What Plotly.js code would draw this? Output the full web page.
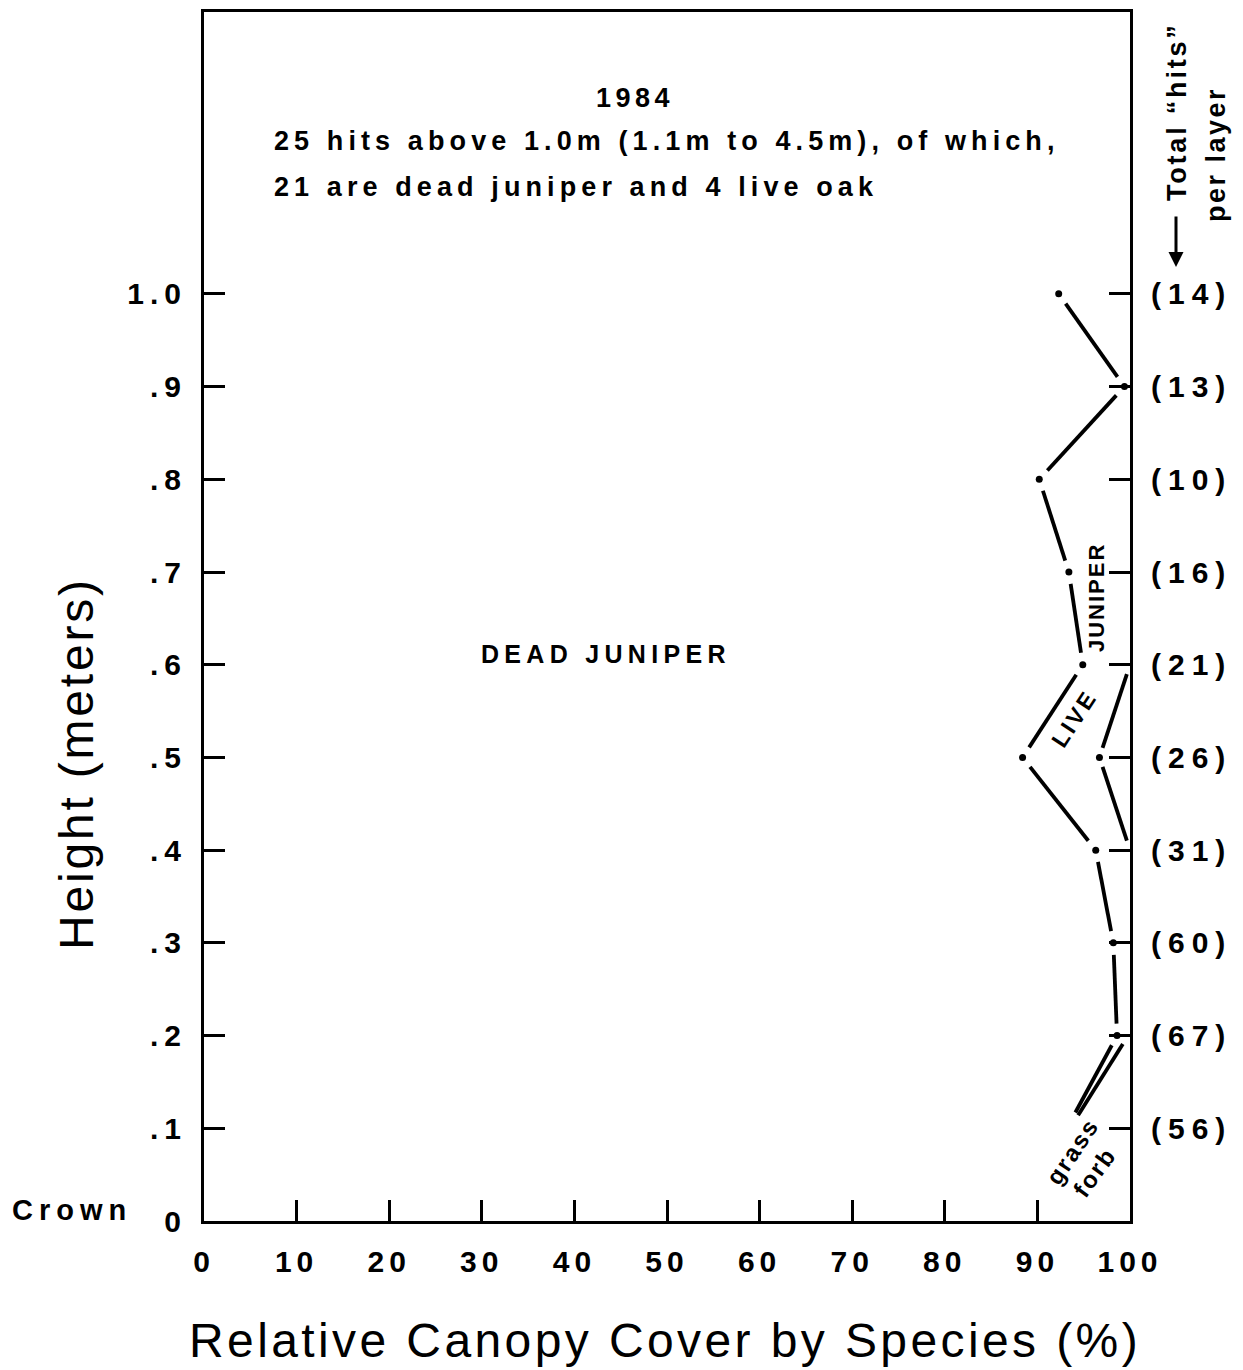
<!DOCTYPE html>
<html>
<head>
<meta charset="utf-8">
<script src="https://cdn.plot.ly/plotly-3.0.1.min.js"></script>
<style>
  body { margin: 0; background: #fff; }
  .xtick text { letter-spacing: 5px; }
  .ytick text { letter-spacing: 6px; }
  .y2tick text { letter-spacing: 7px; }
</style>
</head>
<body>
<div id="chart" style="width:1243px;height:1370px;"></div>
<script>
// ---- data ----
const xTicks = [0, 10, 20, 30, 40, 50, 60, 70, 80, 90, 100];
const layerHeights = [0, 0.1, 0.2, 0.3, 0.4, 0.5, 0.6, 0.7, 0.8, 0.9, 1.0];
const layerLabels = ["0", ".1", ".2", ".3", ".4", ".5", ".6", ".7", ".8", ".9", "1.0"];
const hitHeights = [0.1, 0.2, 0.3, 0.4, 0.5, 0.6, 0.7, 0.8, 0.9, 1.0];
const hitsPerLayer = [56, 67, 60, 31, 26, 21, 16, 10, 13, 14];

// boundary between dead juniper and live juniper (cumulative %)
const deadHeights = [1.0, 0.9, 0.8, 0.7, 0.6, 0.5, 0.4, 0.3, 0.2];
const deadEdge    = [92.3, 99.4, 90.2, 93.4, 94.9, 88.4, 96.3, 98.2, 98.6];
// boundary between live juniper and live oak
const liveHeights = [0.6, 0.5, 0.4];
const liveEdge    = [100, 96.7, 100];
// grass and forb boundaries
const grassHeights = [0.2, 0.117];
const grassEdge    = [98.6, 94.1];
const forbHeights  = [0.2, 0.114];
const forbEdge     = [99.8, 94.4];

// ---- layout geometry ----
const W = 1243, H = 1370;
const M = {l: 204, r: 113, t: 12, b: 149};
const PW = W - M.l - M.r, PH = H - M.t - M.b;
const XR = [0, 100], YR = [0, 1.304];
const sx = PW / (XR[1] - XR[0]), sy = PH / (YR[1] - YR[0]);
const px = p => (p - M.l) / PW;           // pixel -> paper x
const py = p => (H - M.b - p) / PH;       // pixel -> paper y

// dash-with-gaps: each segment is shortened near its vertices
function gapped(xs, ys, gap, gapFirst = true, gapLast = true) {
  const ox = [], oy = [];
  for (let i = 0; i < xs.length - 1; i++) {
    const dxp = (xs[i + 1] - xs[i]) * sx, dyp = (ys[i + 1] - ys[i]) * sy;
    const len = Math.hypot(dxp, dyp);
    const g0 = (i === 0 && !gapFirst) ? 0 : gap / len;
    const g1 = (i === xs.length - 2 && !gapLast) ? 0 : gap / len;
    ox.push(xs[i] + (xs[i + 1] - xs[i]) * g0, xs[i + 1] - (xs[i + 1] - xs[i]) * g1, null);
    oy.push(ys[i] + (ys[i + 1] - ys[i]) * g0, ys[i + 1] - (ys[i + 1] - ys[i]) * g1, null);
  }
  return {x: ox, y: oy};
}

const lineStyle = {color: '#000', width: 3.8};
const d1 = gapped(deadEdge, deadHeights, 12);
const d2 = gapped(liveEdge, liveHeights, 10);
const d3 = gapped(grassEdge, grassHeights, 11, true, false);
const d4 = gapped(forbEdge, forbHeights, 10, true, false);

const traces = [
  {x: d1.x, y: d1.y, mode: 'lines', line: lineStyle, hoverinfo: 'skip', showlegend: false},
  {x: d2.x, y: d2.y, mode: 'lines', line: lineStyle, hoverinfo: 'skip', showlegend: false},
  {x: d3.x, y: d3.y, mode: 'lines', line: lineStyle, hoverinfo: 'skip', showlegend: false},
  {x: d4.x, y: d4.y, mode: 'lines', line: lineStyle, hoverinfo: 'skip', showlegend: false},
  {x: deadEdge.concat([liveEdge[1]]), y: deadHeights.concat([liveHeights[1]]), mode: 'markers',
   marker: {color: '#000', size: 7}, hoverinfo: 'skip', showlegend: false},
  // invisible trace to activate right axis
  {x: [null], y: [null], yaxis: 'y2', mode: 'markers', showlegend: false, hoverinfo: 'skip'}
];

const FAM = 'Liberation Sans, Arial, sans-serif';
const tickFont = {family: FAM, size: 30, color: '#000', weight: 'bold'};
const bold = (s) => ({family: FAM, size: s, color: '#000', weight: 'bold'});
const reg = (s) => ({family: FAM, size: s, color: '#000'});
const sp = (t, ls) => '<span style="letter-spacing:' + ls + 'px">' + t + '</span>';

const ann = (text, x, y, font, extra) => Object.assign({
  text, x: px(x), y: py(y), xref: 'paper', yref: 'paper', showarrow: false, font,
  xanchor: 'center', yanchor: 'middle'
}, extra || {});

const layout = {
  width: W, height: H,
  margin: M,
  paper_bgcolor: '#fff', plot_bgcolor: '#fff',
  showlegend: false,
  xaxis: {
    range: XR, tickvals: xTicks, ticktext: xTicks.map(String),
    ticks: 'inside', ticklen: 21, tickwidth: 3, tickcolor: '#000',
    showline: true, linewidth: 3, linecolor: '#000', mirror: true,
    showgrid: false, zeroline: false, tickfont: tickFont, ticklabelstandoff: 12, fixedrange: true
  },
  yaxis: {
    range: YR, tickvals: layerHeights, ticktext: layerLabels,
    ticks: 'inside', ticklen: 21, tickwidth: 3, tickcolor: '#000',
    showline: true, linewidth: 3, linecolor: '#000', mirror: 'ticks',
    showgrid: false, zeroline: false, tickfont: tickFont, ticklabelstandoff: 8, fixedrange: true
  },
  yaxis2: {
    range: YR, overlaying: 'y', side: 'right', tickvals: hitHeights,
    ticktext: hitsPerLayer.map(v => '(' + v + ')'),
    ticks: '', showline: false, showgrid: false, zeroline: false,
    tickfont: tickFont, ticklabelstandoff: 20, fixedrange: true
  },
  annotations: [
    ann(sp('1984', 4.5), 635, 98, bold(27)),
    ann(sp('25 hits above 1.0m (1.1m to 4.5m), of which,', 5.1), 272, 141, bold(27), {xanchor: 'left'}),
    ann(sp('21 are dead juniper and 4 live oak', 5.1), 272, 187, bold(27), {xanchor: 'left'}),
    ann(sp('DEAD JUNIPER', 5.3), 606, 654, bold(25)),
    ann(sp('LIVE', 3), 1074, 719, bold(23), {textangle: -57}),
    ann(sp('JUNIPER', 2), 1096, 598, bold(22), {textangle: -90}),
    ann(sp('grass', 2), 1072, 1151, bold(24), {textangle: -56}),
    ann(sp('forb', 2), 1094, 1172, bold(24), {textangle: -54}),
    ann(sp('Crown', 6), 72, 1210, bold(29)),
    ann(sp('Height (meters)', 2.8), 76, 764, reg(48), {textangle: -90}),
    ann(sp('Relative Canopy Cover by Species (%)', 3.4), 665, 1340, reg(48)),
    ann(sp('Total \u201Chits\u201D', 2.8), 1177, 112, bold(27), {textangle: -90}),
    ann(sp('per layer', 2.5), 1216, 155, bold(27), {textangle: -90}),
    // arrow pointing down toward the per-layer totals
    {x: px(1176), y: py(267), xref: 'paper', yref: 'paper', text: '', showarrow: true,
     ax: 0, ay: -52, arrowhead: 2, arrowsize: 1, arrowwidth: 3, arrowcolor: '#000',
     standoff: 0, startstandoff: 0}
  ]
};

Plotly.newPlot('chart', traces, layout, {staticPlot: true, displayModeBar: false});
</script>
</body>
</html>
